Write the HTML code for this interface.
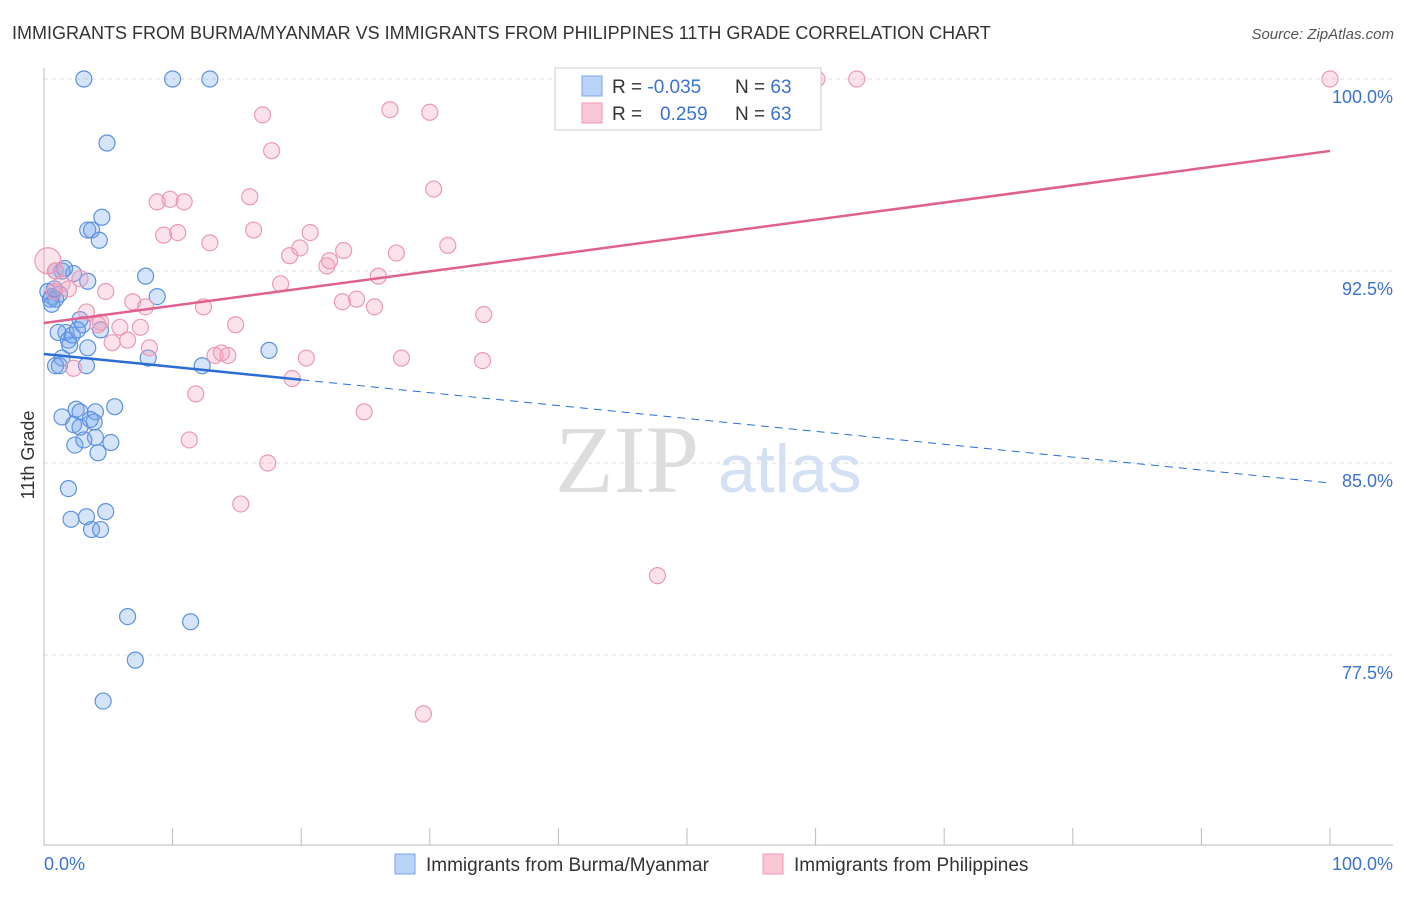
<!DOCTYPE html>
<html><head><meta charset="utf-8"><style>
body{margin:0;background:#fff;font-family:"Liberation Sans",sans-serif;}
</style></head><body>
<svg id="c" width="1406" height="892" xmlns="http://www.w3.org/2000/svg">
<text x="12" y="39" font-size="18" fill="#333">IMMIGRANTS FROM BURMA/MYANMAR VS IMMIGRANTS FROM PHILIPPINES 11TH GRADE CORRELATION CHART</text>
<text x="1394" y="39" font-size="15" fill="#555" font-style="italic" text-anchor="end">Source: ZipAtlas.com</text>
<text x="555" y="492" font-size="96" fill="#ddd" font-family="Liberation Serif,serif">ZIP</text>
<text x="718" y="492" font-size="68" fill="#d4e0f3">atlas</text>
<g id="grid"></g><g id="axes"></g><g id="pts"></g><g id="lines"></g>
<text transform="translate(34,455) rotate(-90)" font-size="18" fill="#333" text-anchor="middle">11th Grade</text>
<text x="44" y="870" font-size="18" fill="#3a72d0">0.0%</text>
<text x="1393" y="870" font-size="18" fill="#3a72d0" text-anchor="end">100.0%</text>
<g>
<rect x="555" y="68" width="266" height="62" fill="#fff" stroke="#ccc"/>
<rect x="582" y="76" width="20" height="20" fill="#b9d3f6" stroke="#7aa6e6"/>
<rect x="582" y="103" width="20" height="20" fill="#f9c6d5" stroke="#ee9ab4"/>
<text x="612" y="93" font-size="19" fill="#333">R = <tspan fill="#3a72d0">-0.035</tspan></text>
<text x="735" y="93" font-size="19" fill="#333">N = <tspan fill="#3a72d0">63</tspan></text>
<text x="612" y="120" font-size="19" fill="#333">R = <tspan fill="#3a72d0" x="660">0.259</tspan></text>
<text x="735" y="120" font-size="19" fill="#333">N = <tspan fill="#3a72d0">63</tspan></text>
</g>
<g>
<rect x="395" y="854" width="20" height="20" fill="#b9d3f6" stroke="#7aa6e6"/>
<text x="426" y="871" font-size="19" fill="#333">Immigrants from Burma/Myanmar</text>
<rect x="763" y="854" width="20" height="20" fill="#f9c6d5" stroke="#ee9ab4"/>
<text x="794" y="871" font-size="19" fill="#333">Immigrants from Philippines</text>
</g>
</svg>
<script>
const blueX=[3.1,10.0,12.9,4.9,4.5,3.4,3.7,4.3,7.9,1.4,2.3,3.4,8.8,0.3,0.6,0.9,1.2,0.5,0.8,2.8,3.0,1.7,1.1,1.9,2.0,3.4,1.4,0.9,3.3,8.1,12.3,17.5,5.5,2.5,2.8,4.0,1.4,2.3,3.9,2.8,4.0,2.4,5.2,4.2,1.9,2.1,3.3,4.8,3.7,4.4,6.5,11.4,7.1,4.6,0.9,1.6,0.6,2.2,1.2,3.6,3.1,2.6,4.4];
const blueY=[100,100,100,97.5,94.6,94.1,94.1,93.7,92.3,92.5,92.4,92.1,91.5,91.7,91.5,91.4,91.6,91.4,91.8,90.6,90.4,90.1,90.1,89.8,89.6,89.5,89.1,88.8,88.8,89.1,88.8,89.4,87.2,87.1,87.0,87.0,86.8,86.5,86.6,86.4,86.0,85.7,85.8,85.4,84.0,82.8,82.9,83.1,82.4,82.4,79.0,78.8,77.3,75.7,92.5,92.6,91.2,90.0,88.8,86.7,85.9,90.2,90.2];
const pinkX=[0.3,0.9,1.4,1.9,2.8,0.8,3.3,4.4,2.3,4.8,4.2,5.9,5.3,6.5,6.9,7.5,7.9,8.2,8.8,9.8,10.9,9.3,10.4,12.4,12.9,14.9,13.3,14.3,13.8,11.8,11.3,15.3,17.4,17.0,17.7,16.0,16.3,18.4,19.1,19.9,20.7,19.3,20.4,22.0,22.2,23.3,23.2,24.3,25.7,26.0,26.9,27.4,27.8,24.9,30.0,30.3,31.4,34.2,34.1,47.7,29.5,60.1,63.2,100];
const pinkY=[92.9,92.5,92.0,91.8,92.2,91.7,90.9,90.5,88.7,91.7,90.4,90.3,89.7,89.8,91.3,90.3,91.1,89.5,95.2,95.3,95.2,93.9,94.0,91.1,93.6,90.4,89.2,89.2,89.3,87.7,85.9,83.4,85.0,98.6,97.2,95.4,94.1,92.0,93.1,93.4,94.0,88.3,89.1,92.7,92.9,93.3,91.3,91.4,91.1,92.3,98.8,93.2,89.1,87.0,98.7,95.7,93.5,90.8,89.0,80.6,75.2,100,100,100];
const blueTrendX=[0,20,100];
const blueTrendY=[89.26,88.25,84.22];
const pinkTrendX=[0,100];
const pinkTrendY=[90.47,97.19];
const yTicks=[100,92.5,85,77.5];
const yTickLabels=["100.0%","92.5%","85.0%","77.5%"];
const xTicks=[0,10,20,30,40,50,60,70,80,90,100];
const NS="http://www.w3.org/2000/svg";
function sx(v){return 44+v*12.86;}
function sy(v){return 79+(100-v)*25.6;}
function mk(tag,attrs,parent){const e=document.createElementNS(NS,tag);for(const k in attrs)e.setAttribute(k,attrs[k]);document.getElementById(parent).appendChild(e);return e;}
yTicks.forEach((t,i)=>{
  const l=mk('line',{x1:44,x2:1393,y1:sy(t),y2:sy(t),stroke:'#ddd','stroke-dasharray':'4,4'},'grid');
  
  
  const tx=mk('text',{x:1393,y:sy(t)+24,'font-size':18,fill:'#3a72d0','text-anchor':'end'},'grid');
  tx.textContent=yTickLabels[i];
  
  
});
let a=mk('line',{x1:44,x2:44,y1:68,y2:845,stroke:'#bbb'},'axes');


a=mk('line',{x1:44,x2:1393,y1:845,y2:845,stroke:'#bbb'},'axes');


xTicks.forEach(t=>{
  const l=mk('line',{x1:sx(t),x2:sx(t),y1:828,y2:845,stroke:'#bbb'},'axes');
  
  
});
blueX.forEach((x,i)=>{
  const c=mk('circle',{cx:sx(x),cy:sy(blueY[i]),r:8,fill:'rgba(120,165,235,0.3)',stroke:'#5d91e0','stroke-width':1.2},'pts');
  
  
});
pinkX.forEach((x,i)=>{
  const c=mk('circle',{cx:sx(x),cy:sy(pinkY[i]),r:i==0?13:8,fill:'rgba(245,160,185,0.3)',stroke:'#ec9ab3','stroke-width':1.2},'pts');
  
  
});
let ln=mk('line',{x1:sx(blueTrendX[0]),y1:sy(blueTrendY[0]),x2:sx(blueTrendX[1]),y2:sy(blueTrendY[1]),stroke:'#2a6dd4','stroke-width':2.5},'lines');


ln=mk('line',{x1:sx(blueTrendX[1]),y1:sy(blueTrendY[1]),x2:sx(blueTrendX[2]),y2:sy(blueTrendY[2]),stroke:'#2a6dd4','stroke-width':1,'stroke-dasharray':'8,6'},'lines');


ln=mk('line',{x1:sx(pinkTrendX[0]),y1:sy(pinkTrendY[0]),x2:sx(pinkTrendX[1]),y2:sy(pinkTrendY[1]),stroke:'#e0608f','stroke-width':2.5},'lines');


</script>
</body></html>
